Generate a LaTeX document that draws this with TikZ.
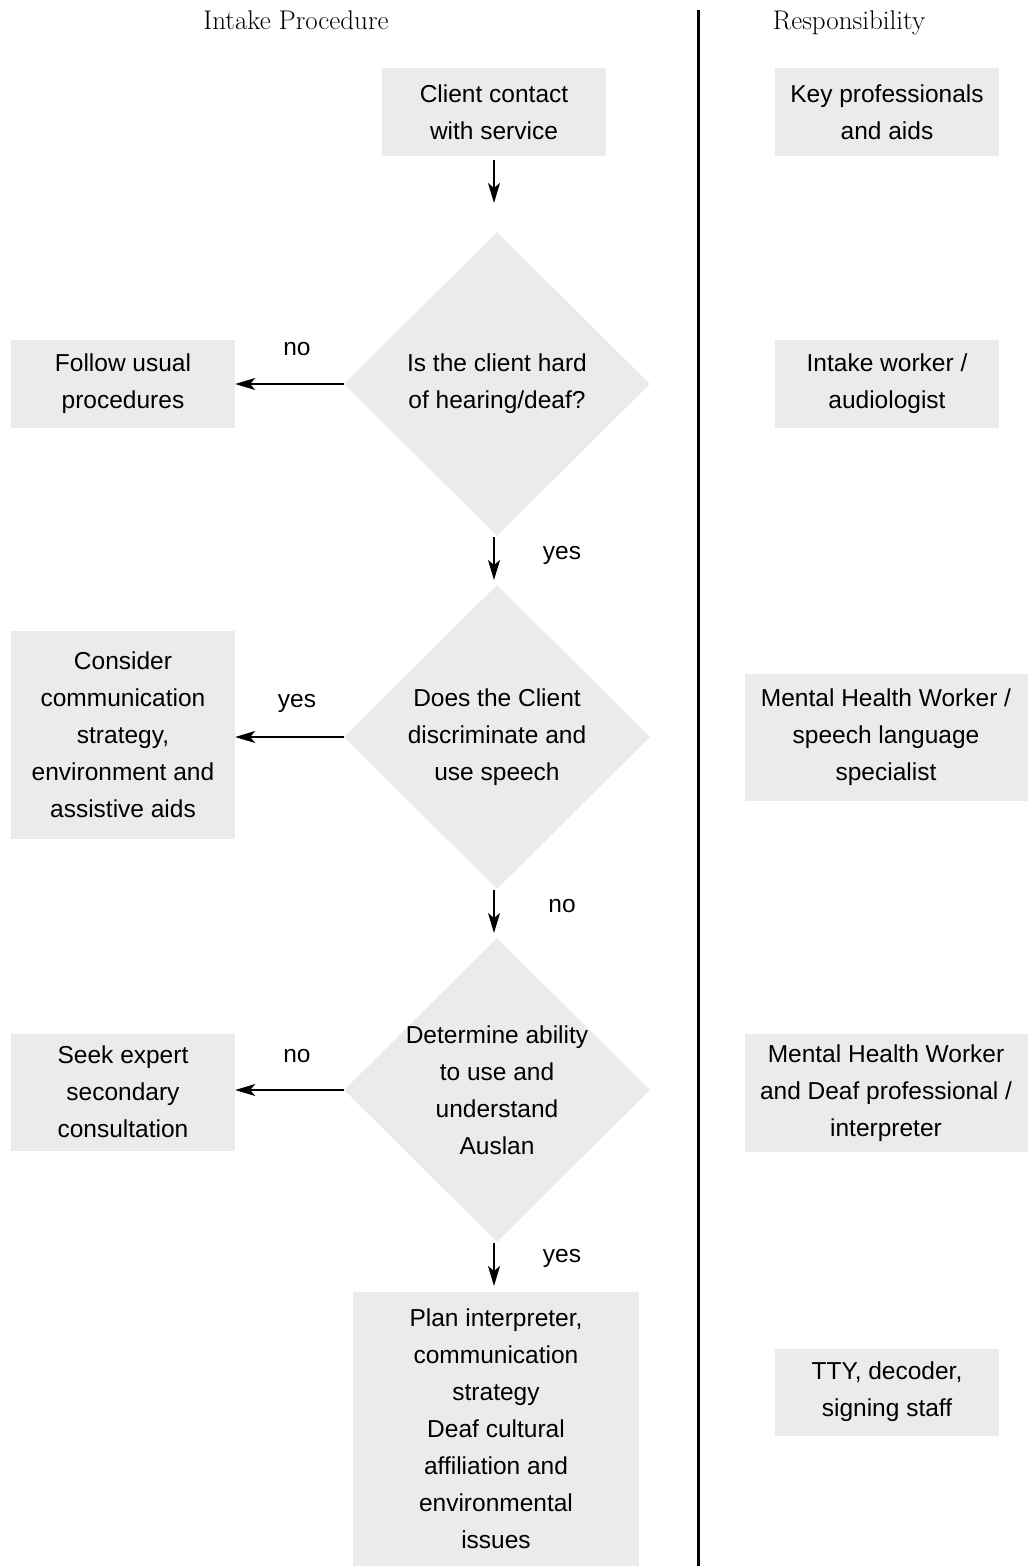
\documentclass[tikz,border=0pt]{standalone}
\usepackage{fontspec}
\setsansfont{Liberation Sans}
\usetikzlibrary{shapes.geometric,arrows.meta}
\definecolor{boxgray}{HTML}{EBEBEB}
\tikzset{
  txt/.style={font=\sffamily\fontsize{24.5}{37}\selectfont, align=center},
  gbox/.style={fill=boxgray, draw=none, inner sep=0pt, txt},
  dia/.style={diamond, fill=boxgray, draw=none, inner sep=0pt, minimum width=306pt, minimum height=304pt},
  flow/.style={line width=1.2pt, -{Stealth[length=20pt,width=12pt,inset=5pt]}},
  lbl/.style={txt},
  head/.style={font=\rmfamily\fontsize{27}{30}\selectfont, anchor=base},
}
\begin{document}
\begin{tikzpicture}[x=1pt,y=-1pt]
\useasboundingbox (0,0) rectangle (1028,1566);
% headers
\node[head] (h1) at (296,29) {Intake Procedure};
\node[head] (h2) at (849,29) {Responsibility};
\coordinate (vt) at (698,10);
\coordinate (vb) at (698,1566);
\draw[line width=3pt] (vt) -- (vb);

% left column
\node[gbox, minimum width=224pt, minimum height=88pt] (start) at (494,112) {Client contact\\with service};
\coordinate (a1s) at (494,160);
\coordinate (a1e) at (494,203);
\draw[flow] (a1s) -- (a1e);

\node[dia] (d1) at (497,384) {};
\node[txt] (d1t) at (497,384) {Is the client hard\\of hearing/deaf?};
\node[gbox, minimum width=224pt, minimum height=88pt] (follow) at (123,384) {Follow usual\\procedures};
\draw[flow] (d1.west) -- (follow.east);
\node[lbl] (no1) at (297,349) {no};

\coordinate (a2s) at (494,537);
\coordinate (a2e) at (494,580);
\draw[flow] (a2s) -- (a2e);
\node[lbl] (yes1) at (562,555) {yes};

\node[dia] (d2) at (497,737) {};
\node[txt] (d2t) at (497,737) {Does the Client\\discriminate and\\use speech};
\node[gbox, minimum width=224pt, minimum height=208pt] (consider) at (123,735) {Consider\\communication\\strategy,\\environment and\\assistive aids};
\draw[flow] (d2.west) -- (consider.east |- d2.west);
\node[lbl] (yes2) at (297,703) {yes};

\coordinate (a3s) at (494,890);
\coordinate (a3e) at (494,933);
\draw[flow] (a3s) -- (a3e);
\node[lbl] (no2) at (562,906) {no};

\node[dia] (d3) at (497,1090) {};
\node[txt] (d3t) at (497,1090) {Determine ability\\to use and\\understand\\Auslan};
\node[gbox, minimum width=224pt, minimum height=117pt] (seek) at (123,1092) {Seek expert\\secondary\\consultation};
\draw[flow] (d3.west) -- (seek.east |- d3.west);
\node[lbl] (no3) at (297,1056) {no};

\coordinate (a4s) at (494,1243);
\coordinate (a4e) at (494,1286);
\draw[flow] (a4s) -- (a4e);
\node[lbl] (yes3) at (562,1258) {yes};

\node[gbox, minimum width=286pt, minimum height=274pt] (plan) at (496,1429) {Plan interpreter,\\communication\\strategy\\Deaf cultural\\affiliation and\\environmental\\issues};

% right column
\node[gbox, minimum width=224pt, minimum height=88pt] (r1) at (887,112) {Key professionals\\and aids};
\node[gbox, minimum width=224pt, minimum height=88pt] (r2) at (887,384) {Intake worker /\\audiologist};
\node[gbox, minimum width=283pt, minimum height=127pt] (r3) at (886,737) {Mental Health Worker /\\speech language\\specialist};
\node[gbox, minimum width=283pt, minimum height=118pt] (r4) at (886,1093) {Mental Health Worker\\and Deaf professional /\\interpreter};
\node[gbox, minimum width=224pt, minimum height=87pt] (r5) at (887,1392) {TTY, decoder,\\signing staff};
\end{tikzpicture}
\end{document}
